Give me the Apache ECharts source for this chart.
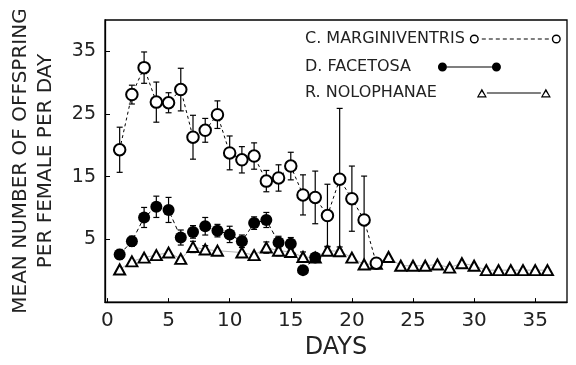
<!DOCTYPE html>
<html>
<head>
<meta charset="utf-8">
<script src="https://cdn.jsdelivr.net/npm/echarts@6/dist/echarts.min.js"></script>
<style>
  html, body { margin: 0; padding: 0; background: #fff; }
  #chart { width: 576px; height: 365px; }
</style>
</head>
<body>
<div id="chart"></div>
<script>
// days of observation
const days = [1, 2, 3, 4, 5, 6, 7, 8, 9, 10, 11, 12, 13, 14, 15, 16, 17, 18,
  19, 20, 21, 22, 23, 24, 25, 26, 27, 28, 29, 30, 31, 32, 33, 34, 35, 36]

const seriesNames = ['C. MARGINIVENTRIS', 'D. FACETOSA', 'R. NOLOPHANAE']

// C. marginiventris (days 1-22)
const margVals = [19.3, 28.1, 32.4, 26.9, 26.8, 28.9, 21.3, 22.4, 24.9, 18.8, 17.7,
  18.3, 14.3, 14.8, 16.7, 12.1, 11.7, 8.8, 14.6, 11.5, 8.1, 1.2]
const margErr = [3.6, 1.5, 2.5, 3.2, 1.6, 3.4, 3.5, 1.9, 2.2, 2.7, 2.1,
  2.1, 1.7, 2.1, 2.2, 3.2, 4.2, 5.0, 11.3, 5.2, 7.0, 0]

// D. facetosa (days 1-17)
const facVals = [2.6, 4.7, 8.5, 10.2, 9.7, 5.3, 6.2, 7.1, 6.4, 5.8, 4.7,
  7.6, 8.1, 4.5, 4.3, 0.1, 2.1]
const facErr = [0.8, 0.8, 1.6, 1.7, 2.0, 1.2, 1.0, 1.4, 1.0, 1.3, 1.0,
  1.0, 1.2, 1.0, 1.0, 0, 0.5]

// R. nolophanae (days 1-36)
const noloVals = [0.2, 1.5, 2.1, 2.5, 2.9, 1.9, 3.8, 3.4, 3.2, null, 2.9, 2.5,
  3.7, 3.2, 3.0, 2.2, 2.1, 3.2, 3.1, 2.1, 1.0, 1.1, 2.2, 0.8, 0.8, 0.8,
  1.0, 0.5, 1.2, 0.8, 0.1, 0.1, 0.1, 0.1, 0.1, 0.1]
const noloErr = [0, 0, 0, 0, 0, 0, 0.9, 0.6, 0, 0, 0, 0, 0.9, 0.8, 0.8, 0.8,
  0, 0.7, 0.7, 0, 0, 0, 0, 0, 0, 0, 0, 0, 0, 0, 0, 0, 0, 0, 0, 0]

const xTicks = [0, 5, 10, 15, 20, 25, 30, 35]
const yTicks = [5, 15, 25, 35]

const font = 'DejaVu Sans'
const ink = '#222'

function pairs (vals) {
  return vals.map((v, i) => [days[i], v])
}

// vertical error bar with small caps
function errBars (vals, errs) {
  const data = []
  vals.forEach((v, i) => {
    if (v != null && errs[i]) data.push([days[i], v - errs[i], v + errs[i]])
  })
  return {
    type: 'custom',
    silent: true,
    z: 1,
    encode: { x: 0, y: [1, 2] },
    data: data,
    renderItem: function (params, api) {
      const x = api.value(0)
      const lo = api.coord([x, api.value(1)])
      const hi = api.coord([x, api.value(2)])
      const st = { stroke: '#000', lineWidth: 1.2 }
      return {
        type: 'group',
        children: [
          { type: 'line', shape: { x1: lo[0], y1: lo[1], x2: hi[0], y2: hi[1] }, style: st },
          { type: 'line', shape: { x1: lo[0] - 3, y1: lo[1], x2: lo[0] + 3, y2: lo[1] }, style: st },
          { type: 'line', shape: { x1: hi[0] - 3, y1: hi[1], x2: hi[0] + 3, y2: hi[1] }, style: st }
        ]
      }
    }
  }
}

// legend icons: marker - line - marker
const ring = (cx) => 'M' + (cx - 4.5) + ',4.5 A4.5,4.5 0 1 1 ' + (cx + 4.5) + ',4.5 A4.5,4.5 0 1 1 ' + (cx - 4.5) + ',4.5 Z ' +
  'M' + (cx - 3.1) + ',4.5 A3.1,3.1 0 1 0 ' + (cx + 3.1) + ',4.5 A3.1,3.1 0 1 0 ' + (cx - 3.1) + ',4.5 Z '
const dot = (cx) => 'M' + (cx - 4.5) + ',4.5 A4.5,4.5 0 1 1 ' + (cx + 4.5) + ',4.5 A4.5,4.5 0 1 1 ' + (cx - 4.5) + ',4.5 Z '
const tri = (cx) => 'M' + cx + ',0 L' + (cx + 5) + ',9 L' + (cx - 5) + ',9 Z ' +
  'M' + cx + ',2.9 L' + (cx - 3.1) + ',7.8 L' + (cx + 3.1) + ',7.8 Z '
const bar = (x1, x2) => 'M' + x1 + ',3.9 L' + x2 + ',3.9 L' + x2 + ',5.1 L' + x1 + ',5.1 Z '

let dashes = ''
for (let x = 12; x < 78; x += 7) dashes += bar(x, x + 4)
const iconMarg = 'path://' + ring(4.5) + dashes + ring(86.5)
const iconFac = 'path://' + dot(4.5) + bar(9, 54) + dot(58.5)
const iconNolo = 'path://' + tri(5) + bar(10, 64) + tri(69)

function legendRow (name, top, icon, w, padRight) {
  return {
    data: [name],
    left: 305,
    top: top,
    padding: 0,
    align: 'right',
    icon: icon,
    itemWidth: w,
    itemHeight: 9,
    selectedMode: false,
    itemStyle: { color: '#000', borderWidth: 0 },
    textStyle: { fontFamily: font, fontSize: 16, color: ink, padding: [0, padRight, 0, 0] }
  }
}

const myChart = echarts.init(document.getElementById('chart'))
const option = {
  animation: false,
  backgroundColor: '#fff',
  textStyle: { fontFamily: font, color: ink },
  grid: {
    left: 103,
    right: 9,
    top: 20,
    bottom: 57,
    show: true,
    borderColor: '#000',
    borderWidth: 1.3
  },
  legend: [
    legendRow(seriesNames[0], 31, iconMarg, 91, 0),
    legendRow(seriesNames[1], 59, iconFac, 63, 22),
    legendRow(seriesNames[2], 85, iconNolo, 74, 35)
  ],
  xAxis: {
    type: 'value',
    min: -0.2,
    max: 37.6,
    name: 'DAYS',
    nameLocation: 'middle',
    nameGap: 33,
    nameTextStyle: { fontFamily: font, fontSize: 24, color: ink },
    axisLine: { onZero: false, lineStyle: { color: '#000', width: 1.3 } },
    axisTick: { inside: true, length: 4, customValues: xTicks, lineStyle: { color: '#000' } },
    axisLabel: { customValues: xTicks, fontFamily: font, fontSize: 20, color: ink, margin: 9 },
    splitLine: { show: false }
  },
  yAxis: {
    type: 'value',
    min: -5,
    max: 40,
    name: 'MEAN NUMBER OF OFFSPRING\nPER FEMALE PER DAY',
    nameLocation: 'middle',
    nameRotate: 90,
    nameGap: 47,
    nameTextStyle: { fontFamily: font, fontSize: 20, lineHeight: 25, color: ink },
    axisLine: { show: true, onZero: false, lineStyle: { color: '#000', width: 1.3 } },
    axisTick: { show: true, inside: true, length: 5, customValues: yTicks, lineStyle: { color: '#000' } },
    axisLabel: { customValues: yTicks, fontFamily: font, fontSize: 19, color: ink, margin: 9 },
    splitLine: { show: false }
  },
  series: [
    errBars(noloVals, noloErr),
    errBars(facVals, facErr),
    errBars(margVals, margErr),
    {
      name: seriesNames[2],
      type: 'line',
      z: 2,
      data: pairs(noloVals),
      connectNulls: true,
      symbol: 'emptyTriangle',
      symbolSize: [11, 10],
      itemStyle: { color: '#000', borderWidth: 1.3 },
      lineStyle: { color: '#000', width: 1, opacity: 0.3 }
    },
    {
      name: seriesNames[1],
      type: 'line',
      z: 3,
      data: pairs(facVals),
      symbol: 'circle',
      symbolSize: 12,
      itemStyle: { color: '#000' },
      lineStyle: { color: '#000', width: 1, type: [4, 3] }
    },
    {
      name: seriesNames[0],
      type: 'line',
      z: 4,
      data: pairs(margVals),
      symbol: 'emptyCircle',
      symbolSize: 11.5,
      itemStyle: { color: '#000', borderWidth: 1.3 },
      lineStyle: { color: '#000', width: 1, type: [3, 3] }
    }
  ]
}
myChart.setOption(option)
window.addEventListener('resize', function () {
  myChart.resize()
})
</script>
</body>
</html>
